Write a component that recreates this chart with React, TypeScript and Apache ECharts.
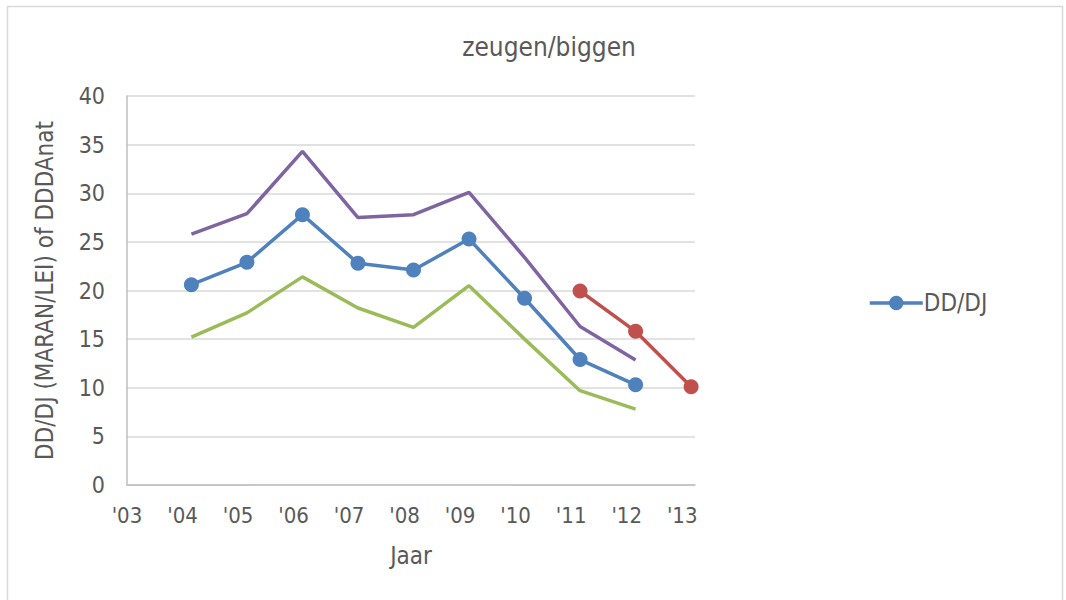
import React, { useEffect, useRef } from "react";
import * as echarts from "echarts";

const years = [2004, 2005, 2006, 2007, 2008, 2009, 2010, 2011, 2012];
const ddDj = [20.6, 22.9, 27.8, 22.8, 22.1, 25.3, 19.2, 12.9, 10.3];
const upper = [25.8, 27.9, 34.3, 27.5, 27.8, 30.1, 23.4, 16.3, 12.85];
const lower = [15.2, 17.7, 21.4, 18.2, 16.2, 20.5, 15.0, 9.7, 7.8];
const newYears = [2011, 2012, 2013];
const newValues = [19.95, 15.8, 10.1];
const yTicks = [0, 5, 10, 15, 20, 25, 30, 35, 40];
// measurements are taken a bit into the year
const measureOffset = 0.16;

const FONT = "'Liberation Sans Narrow', 'Arial Narrow', 'DejaVu Sans Condensed', sans-serif";
const TXT = "#595959";

export default function App() {
  const ref = useRef<HTMLDivElement>(null);
  useEffect(() => {
    document.body.style.margin = "0";
    const chart = echarts.init(ref.current!, null, { renderer: "svg" });
    const pts = (xs: number[], ys: number[]) => xs.map((x, i) => [x + measureOffset, ys[i]]);
    chart.setOption({
      animation: false,
      backgroundColor: "#fff",
      title: {
        text: "zeugen/biggen",
        left: 544,
        textAlign: "center",
        top: 29,
        textStyle: { fontFamily: FONT, fontSize: 26, fontWeight: "normal", color: TXT },
      },
      graphic: [
        {
          type: "rect",
          shape: { x: 7.5, y: 6.5, width: 1055, height: 620 },
          style: { fill: "none", stroke: "#d9d9d9", lineWidth: 1.5 },
          silent: true,
        },
      ],
      legend: {
        data: ["DD/DJ"],
        left: 863,
        top: 286,
        itemWidth: 53,
        itemHeight: 18,
        itemGap: 4,
        lineStyle: { width: 3.5 },
        textStyle: { fontFamily: FONT, fontSize: 24, color: TXT, padding: [0, 0, 0, -4] },
      },
      grid: { left: 127, top: 96, right: 371, bottom: 115, containLabel: false },
      xAxis: {
        type: "value",
        min: 2003,
        max: 2013.23,
        interval: 1,
        name: "Jaar",
        nameLocation: "middle",
        nameGap: 59,
        nameTextStyle: { fontFamily: FONT, fontSize: 24, color: TXT },
        axisLine: { show: true, lineStyle: { color: "#bfbfbf", width: 1.5 } },
        axisTick: { show: false },
        splitLine: { show: false },
        axisLabel: {
          margin: 19,
          fontFamily: FONT,
          fontSize: 22,
          color: TXT,
          showMaxLabel: false,
          formatter: (v: number) =>
            Number.isInteger(v) ? "'" + String(v % 100).padStart(2, "0") : "",
        },
      },
      yAxis: {
        type: "value",
        min: yTicks[0],
        max: yTicks[yTicks.length - 1],
        interval: 5,
        name: "DD/DJ (MARAN/LEI) of DDDAnat",
        nameLocation: "middle",
        nameGap: 70,
        nameTextStyle: { fontFamily: FONT, fontSize: 24, color: TXT },
        axisLine: { show: true, lineStyle: { color: "#bfbfbf", width: 1.5 } },
        axisTick: { show: false },
        splitLine: { show: true, lineStyle: { color: "#d9d9d9", width: 1.5 } },
        axisLabel: { margin: 22, fontFamily: FONT, fontSize: 23, color: TXT },
      },
      series: [
        {
          name: "upper",
          type: "line",
          data: pts(years, upper),
          symbol: "none",
          lineStyle: { color: "#8064A2", width: 3.5 },
          itemStyle: { color: "#8064A2" },
        },
        {
          name: "lower",
          type: "line",
          data: pts(years, lower),
          symbol: "none",
          lineStyle: { color: "#9BBB59", width: 3.5 },
          itemStyle: { color: "#9BBB59" },
        },
        {
          name: "DD/DJ",
          type: "line",
          data: pts(years, ddDj),
          symbol: "circle",
          symbolSize: 15,
          lineStyle: { color: "#4F81BD", width: 3.5 },
          itemStyle: { color: "#4F81BD" },
        },
        {
          name: "recent",
          type: "line",
          data: pts(newYears, newValues),
          symbol: "circle",
          symbolSize: 15,
          lineStyle: { color: "#C0504D", width: 3.5 },
          itemStyle: { color: "#C0504D" },
        },
      ],
    });
    return () => chart.dispose();
  }, []);
  return <div ref={ref} style={{ width: 1066, height: 600, position: "absolute", left: 0, top: 0 }} />;
}
